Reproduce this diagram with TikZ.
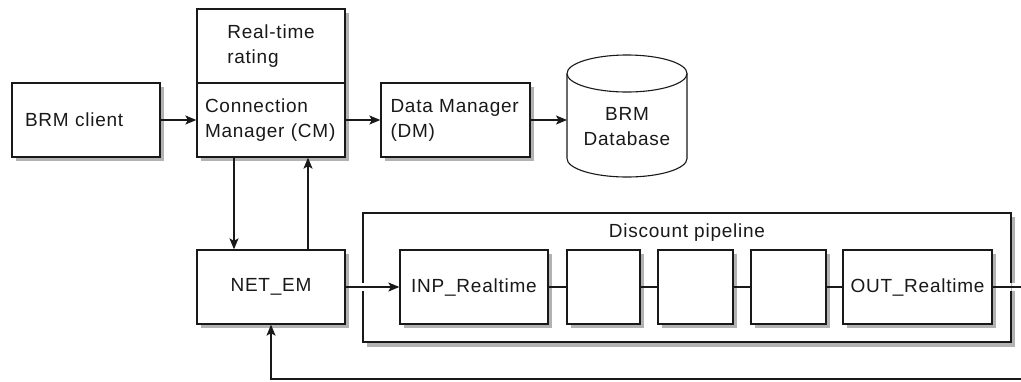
\documentclass[tikz,border=0pt]{standalone}
\usepackage{fontspec}
\setmainfont{Liberation Sans}[LetterSpace=4]
\usetikzlibrary{shadows,arrows.meta}
\definecolor{shadowgray}{RGB}{178,178,178}
\definecolor{ink}{RGB}{25,25,25}
\tikzset{
  lbl/.style={font=\fontsize{19}{25}\selectfont, text=ink},
  boxshadow/.style={drop shadow={shadow xshift=4pt, shadow yshift=-4pt, fill=shadowgray, opacity=1}},
  blk/.style={draw=ink, fill=white, line width=1.3pt, boxshadow, lbl, minimum height=74pt, inner ysep=0pt},
  lbox/.style={blk, align=left, inner xsep=#1, text width=148pt-2*#1},
  wire/.style={draw=ink, line width=1.3pt},
  arr/.style={wire, -{Stealth[length=11pt,width=9pt,inset=2.5pt]}},
}
\begin{document}
\begin{tikzpicture}[x=1pt,y=-1pt]
\useasboundingbox (0,0) rectangle (1021,381);
\clip (0,0) rectangle (1021,381);

% upper row
\node[lbox=13pt] (brm) at (86,120) {BRM client};
\node[blk, align=left, minimum width=148pt] (rt) at (271,46) {Real-time\\rating};
\node[lbox=8pt] (cm) at (271,120) {Connection\\Manager (CM)};
\node[lbox=9pt, minimum width=149pt] (dm) at (455.5,120) {Data Manager\\(DM)};

% database cylinder
\draw[wire, line width=1.1pt] (567,73.5) -- (567,158.5) arc[start angle=180, end angle=0, x radius=60, y radius=18.5] -- (687,73.5);
\draw[wire, line width=1.1pt] (627,73.5) ellipse[x radius=60, y radius=18.5];
\node[lbl, align=center] (db) at (627,127) {BRM\\Database};
\coordinate (dbw) at (567,120);

% pipeline container
\node[fill=white, boxshadow, minimum width=648pt, minimum height=130pt, inner sep=0pt] (pipe) at (687,278) {};
\draw[wire] (363,283) -- (363,213) -- (1011,213) -- (1011,283);
\draw[wire] (363,291) -- (363,342) -- (1011,342) -- (1011,291);
\fill[white] (1012,283) rectangle (1016,291);
\node[lbl] (pipelabel) at (687,233) {Discount pipeline};

% lower row
\node[blk, minimum width=148pt] (netem) at (271,287) {NET\_EM};
\node[blk, minimum width=148pt] (inp) at (474,287) {INP\_Realtime};
\node[blk, minimum width=73pt] (b2) at (603.5,287) {};
\node[blk, minimum width=75pt] (b3) at (695.5,287) {};
\node[blk, minimum width=75pt] (b4) at (788.5,287) {};
\node[blk, minimum width=149pt] (out) at (917.5,287) {OUT\_Realtime};

% connectors
\draw[arr] (brm.east) -- (cm.west);
\draw[arr] (cm.east) -- (dm.west);
\draw[arr] (dm.east) -- (dbw);
\draw[arr] (cm.south -| 234,0) -- (netem.north -| 234,0);
\draw[arr] (netem.north -| 308,0) -- (cm.south -| 308,0);
\draw[arr] (netem.east) -- (inp.west);
\draw[wire] (inp.east) -- (b2.west);
\draw[wire] (b2.east) -- (b3.west);
\draw[wire] (b3.east) -- (b4.west);
\draw[wire] (b4.east) -- (out.west);
\coordinate (fbr) at (1025,379);
\draw[arr] (out.east) -| (fbr) -| (netem.south);
\end{tikzpicture}
\end{document}
